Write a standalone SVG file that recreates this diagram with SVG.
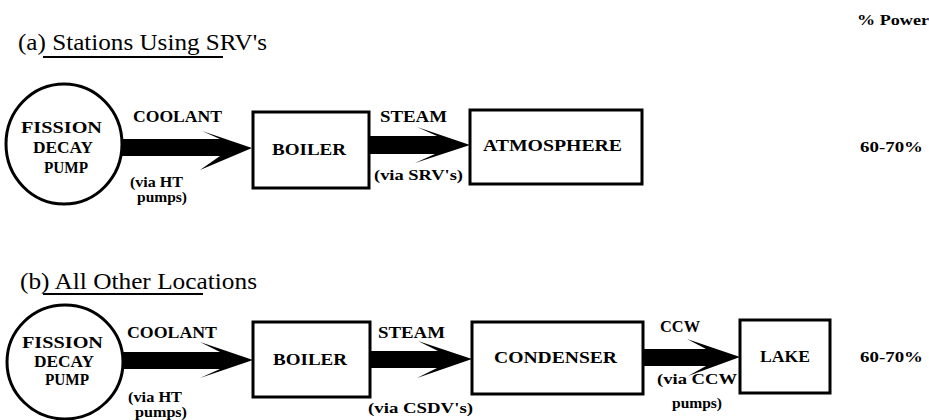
<svg xmlns="http://www.w3.org/2000/svg" width="929" height="420" viewBox="0 0 929 420" font-family="Liberation Serif, DejaVu Serif, serif">
<style>
.bg{fill:#fff}
.node{fill:none;stroke:#000;stroke-width:3}
.lbl{font-weight:bold;font-size:16px;fill:#000}
.sm{font-weight:bold;font-size:15px;fill:#000}
.ttl{font-size:23px;fill:#000}
.ul{stroke:#000;stroke-width:2}
.arr{fill:#000;stroke:none}
</style>
<rect class="bg" x="0" y="0" width="929" height="420"/>

<g id="title-a">
<text class="ttl" x="18" y="50" textLength="249" lengthAdjust="spacingAndGlyphs">(a) Stations Using SRV's</text>
<line class="ul" x1="43" y1="57" x2="223" y2="57"/>
</g>
<g id="title-b">
<text class="ttl" x="20" y="289" textLength="237" lengthAdjust="spacingAndGlyphs">(b) All Other Locations</text>
<line class="ul" x1="43" y1="294" x2="203" y2="294"/>
</g>
<text id="power-hdr" class="sm" x="857" y="25" font-size="14" textLength="72" lengthAdjust="spacingAndGlyphs">% Power</text>
<text id="power-a" class="sm" x="860" y="152" textLength="63" lengthAdjust="spacingAndGlyphs">60-70%</text>
<text id="power-b" class="sm" x="860" y="362" textLength="63" lengthAdjust="spacingAndGlyphs">60-70%</text>

<g id="connectors">
<path class="arr" d="M122,139 L220,139 L202,131 L252,148 L200,170 L220,156 L122,156 Z"/>
<path class="arr" d="M369,136 L437,136 L417,127 L470,145 L415,163 L435,154 L369,154 Z"/>
<path class="arr" d="M122,352 L220,352 L200,342 L253,360 L200,378 L220,369 L122,369 Z"/>
<path class="arr" d="M370,351 L438,351 L418,341 L472,359 L417,378 L437,368 L370,368 Z"/>
<path class="arr" d="M643,349 L706,349 L687,339 L740,357 L688,376 L706,366 L643,366 Z"/>
<text class="lbl" x="133" y="122" textLength="89" lengthAdjust="spacingAndGlyphs">COOLANT</text>
<text class="sm" x="130" y="187" textLength="53" lengthAdjust="spacingAndGlyphs">(via HT</text>
<text class="sm" x="137" y="202" textLength="50" lengthAdjust="spacingAndGlyphs">pumps)</text>
<text class="lbl" x="380" y="122" textLength="67" lengthAdjust="spacingAndGlyphs">STEAM</text>
<text class="sm" x="374" y="180" textLength="89" lengthAdjust="spacingAndGlyphs">(via SRV's)</text>
<text class="lbl" x="127" y="338" textLength="90" lengthAdjust="spacingAndGlyphs">COOLANT</text>
<text class="sm" x="128" y="402" textLength="54" lengthAdjust="spacingAndGlyphs">(via HT</text>
<text class="sm" x="135" y="417" textLength="52" lengthAdjust="spacingAndGlyphs">pumps)</text>
<text class="lbl" x="378" y="338" textLength="67" lengthAdjust="spacingAndGlyphs">STEAM</text>
<text class="sm" x="368" y="413" textLength="105" lengthAdjust="spacingAndGlyphs">(via CSDV's)</text>
<text class="lbl" x="660" y="332" textLength="40" lengthAdjust="spacingAndGlyphs">CCW</text>
<text class="sm" x="657" y="384" textLength="80" lengthAdjust="spacingAndGlyphs">(via CCW</text>
<text class="sm" x="672" y="408" textLength="50" lengthAdjust="spacingAndGlyphs">pumps)</text>
</g>

<g id="pump-a">
<ellipse class="node" cx="64" cy="144" rx="58" ry="60"/>
<text class="lbl" x="21" y="133" textLength="81" lengthAdjust="spacingAndGlyphs">FISSION</text>
<text class="lbl" x="33" y="153" textLength="60" lengthAdjust="spacingAndGlyphs">DECAY</text>
<text class="lbl" x="44" y="173" textLength="44" lengthAdjust="spacingAndGlyphs">PUMP</text>
</g>
<g id="boiler-a">
<rect class="node" x="253" y="112" width="116" height="76"/>
<text class="lbl" x="272" y="155" textLength="74" lengthAdjust="spacingAndGlyphs">BOILER</text>
</g>
<g id="atmosphere">
<rect class="node" x="470" y="110" width="172" height="74"/>
<text class="lbl" x="483" y="151" textLength="139" lengthAdjust="spacingAndGlyphs">ATMOSPHERE</text>
</g>

<g id="pump-b">
<ellipse class="node" cx="65" cy="362" rx="58" ry="57"/>
<text class="lbl" x="22" y="348" textLength="81" lengthAdjust="spacingAndGlyphs">FISSION</text>
<text class="lbl" x="34" y="367" textLength="60" lengthAdjust="spacingAndGlyphs">DECAY</text>
<text class="lbl" x="45" y="385" textLength="44" lengthAdjust="spacingAndGlyphs">PUMP</text>
</g>
<g id="boiler-b">
<rect class="node" x="253" y="322" width="117" height="75"/>
<text class="lbl" x="273" y="365" textLength="74" lengthAdjust="spacingAndGlyphs">BOILER</text>
</g>
<g id="condenser">
<rect class="node" x="472" y="322" width="171" height="72"/>
<text class="lbl" x="494" y="363" textLength="123" lengthAdjust="spacingAndGlyphs">CONDENSER</text>
</g>
<g id="lake">
<rect class="node" x="740" y="320" width="90" height="73"/>
<text class="lbl" x="760" y="362" textLength="50" lengthAdjust="spacingAndGlyphs">LAKE</text>
</g>
</svg>
